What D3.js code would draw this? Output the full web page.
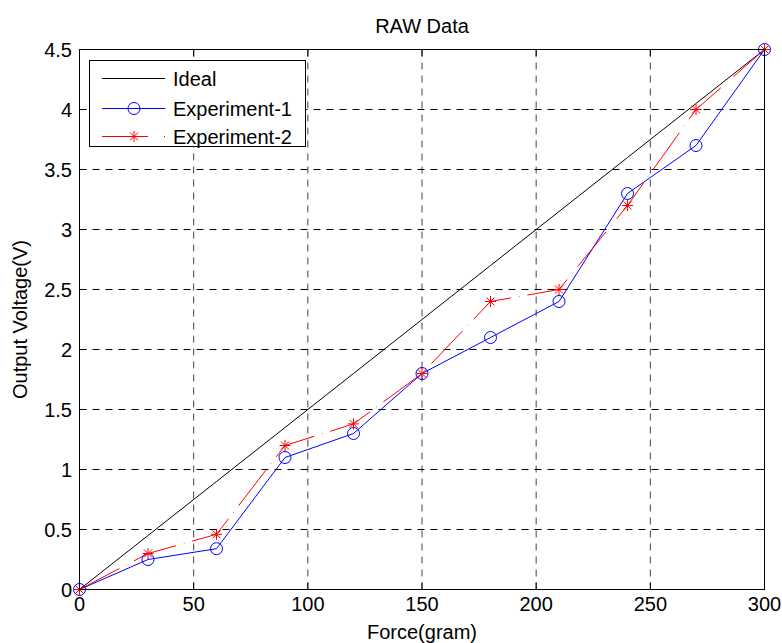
<!DOCTYPE html>
<html>
<head>
<meta charset="utf-8">
<script src="https://cdn.jsdelivr.net/npm/d3@7"></script>
<style>
  html, body { margin: 0; padding: 0; background: #fff; }
  svg { display: block; }
  text { font-family: "Liberation Sans", Arial, Helvetica, sans-serif; fill: #000; }
</style>
</head>
<body>
<script>
// Force applied (gram) and measured sensor output (V)
const force = [0, 30, 60, 90, 120, 150, 180, 210, 240, 270, 300];
const ideal = [0, 0.45, 0.9, 1.35, 1.8, 2.25, 2.7, 3.15, 3.6, 4.05, 4.5];
const experiment1 = [0, 0.25, 0.34, 1.1, 1.3, 1.8, 2.1, 2.4, 3.3, 3.7, 4.5];
const experiment2 = [0, 0.3, 0.46, 1.2, 1.38, 1.8, 2.4, 2.5, 3.2, 4.0, 4.5];

const xTicks = [0, 50, 100, 150, 200, 250, 300];
const yTicks = [0, 0.5, 1, 1.5, 2, 2.5, 3, 3.5, 4, 4.5];
const seriesNames = ["Ideal", "Experiment-1", "Experiment-2"];

const W = 782, H = 643;
const L = 79.5, R = 764.5, T = 49.5, B = 589.5;
const FS = 20;

const svg = d3.select("body").append("svg").attr("width", W).attr("height", H);

const x = d3.scaleLinear().domain([0, 300]).range([L, R]);
const y = d3.scaleLinear().domain([0, 4.5]).range([B, T]);

// dashed grid (vertical lines fall on half pixels and render softer)
const grid = svg.append("g").attr("stroke", "#000").attr("stroke-width", 1)
  .attr("stroke-dasharray", "7,6").attr("fill", "none");
grid.selectAll("line.v").data(xTicks.slice(1, -1)).join("line")
  .attr("stroke", "#444")
  .attr("x1", d => x(d)).attr("x2", d => x(d)).attr("y1", B).attr("y2", T);
grid.selectAll("line.h").data(yTicks.slice(1, -1)).join("line")
  .attr("x1", L).attr("x2", R).attr("y1", d => y(d)).attr("y2", d => y(d));

const line = d3.line().x(d => x(d[0])).y(d => y(d[1]));
const pts = vals => force.map((f, i) => [f, vals[i]]);

// series lines
svg.append("path").datum(pts(ideal)).attr("d", line)
  .attr("fill", "none").attr("stroke", "#000").attr("stroke-width", 1);
svg.append("path").datum(pts(experiment1)).attr("d", line)
  .attr("fill", "none").attr("stroke", "#0000ff").attr("stroke-width", 1);
svg.append("path").datum(pts(experiment2)).attr("d", line)
  .attr("fill", "none").attr("stroke", "#ff0000").attr("stroke-width", 1)
  .attr("stroke-dasharray", "45,8,0.6,8");

// markers
const circleMark = (g, cx, cy) => g.append("circle").attr("cx", cx).attr("cy", cy).attr("r", 6)
  .attr("fill", "none").attr("stroke", "#0000ff").attr("stroke-width", 1);
const starMark = (g, cx, cy) => {
  const s = 5.5, d = 4;
  g.append("path")
    .attr("d", `M${cx - s},${cy}L${cx + s},${cy}M${cx},${cy - s}L${cx},${cy + s}` +
      `M${cx - d},${cy - d}L${cx + d},${cy + d}M${cx - d},${cy + d}L${cx + d},${cy - d}`)
    .attr("stroke", "#ff0000").attr("stroke-width", 1).attr("fill", "none");
};
const m1 = svg.append("g");
pts(experiment1).forEach(p => circleMark(m1, x(p[0]), y(p[1])));
const m2 = svg.append("g");
pts(experiment2).forEach(p => starMark(m2, x(p[0]), y(p[1])));

// axes box with inward ticks on all four sides
const box = svg.append("g").attr("stroke", "#000").attr("stroke-width", 1).attr("fill", "none");
box.append("rect").attr("x", L).attr("y", T).attr("width", R - L).attr("height", B - T);
const tk = 7;
xTicks.forEach(v => {
  box.append("line").attr("x1", x(v)).attr("x2", x(v)).attr("y1", B).attr("y2", B - tk);
  box.append("line").attr("x1", x(v)).attr("x2", x(v)).attr("y1", T).attr("y2", T + tk);
});
yTicks.forEach(v => {
  box.append("line").attr("x1", L).attr("x2", L + tk).attr("y1", y(v)).attr("y2", y(v));
  box.append("line").attr("x1", R).attr("x2", R - tk).attr("y1", y(v)).attr("y2", y(v));
});

// tick labels
svg.append("g").selectAll("text").data(xTicks).join("text")
  .attr("x", d => x(d)).attr("y", 611).attr("text-anchor", "middle")
  .attr("font-size", FS).text(d => d);
svg.append("g").selectAll("text").data(yTicks).join("text")
  .attr("x", 72).attr("y", d => y(d) + 7).attr("text-anchor", "end")
  .attr("font-size", FS).text(d => d);

// titles
svg.append("text").attr("x", (L + R) / 2).attr("y", 33).attr("text-anchor", "middle")
  .attr("font-size", FS).text("RAW Data");
svg.append("text").attr("x", (L + R) / 2).attr("y", 639).attr("text-anchor", "middle")
  .attr("font-size", FS).text("Force(gram)");
svg.append("text").attr("transform", `translate(27,${(T + B) / 2}) rotate(-90)`)
  .attr("text-anchor", "middle").attr("font-size", FS).text("Output Voltage(V)");

// legend
const lg = svg.append("g");
lg.append("rect").attr("x", 89.5).attr("y", 60.5).attr("width", 216).attr("height", 86)
  .attr("fill", "#fff").attr("stroke", "#000").attr("stroke-width", 1);
const rows = [78.5, 108.5, 136.5];
const lx1 = 102, lx2 = 165, lmid = 134;
lg.append("line").attr("x1", lx1).attr("x2", lx2).attr("y1", rows[0]).attr("y2", rows[0])
  .attr("stroke", "#000");
lg.append("line").attr("x1", lx1).attr("x2", lx2).attr("y1", rows[1]).attr("y2", rows[1])
  .attr("stroke", "#0000ff");
circleMark(lg, lmid, rows[1]);
lg.append("line").attr("x1", lx1).attr("x2", lx2).attr("y1", rows[2]).attr("y2", rows[2])
  .attr("stroke", "#ff0000").attr("stroke-dasharray", "46,16,1,8");
starMark(lg, lmid, rows[2]);
lg.selectAll("text.lbl").data(seriesNames).join("text")
  .attr("x", 173).attr("y", (d, i) => rows[i] + 7).attr("font-size", FS).text(d => d);
</script>
</body>
</html>
